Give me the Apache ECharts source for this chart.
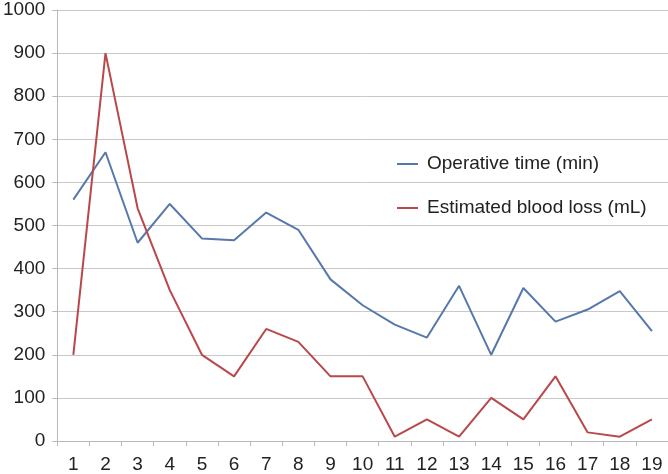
<!DOCTYPE html>
<html>
<head>
<meta charset="utf-8">
<script src="https://cdn.jsdelivr.net/npm/echarts@6/dist/echarts.min.js"></script>
<style>html,body{margin:0;padding:0;background:#fff}#c{width:668px;height:474px}</style>
</head>
<body>
<div id="c"></div>
<script>
var categories = ['1','2','3','4','5','6','7','8','9','10','11','12','13','14','15','16','17','18','19'];
var operativeTime = [560, 670, 460, 550, 470, 466, 530, 490, 375, 315, 270, 240, 360, 200, 355, 277, 305, 348, 255];
var bloodLoss = [200, 900, 540, 350, 200, 150, 260, 230, 150, 150, 10, 50, 10, 100, 50, 150, 20, 10, 50];
var seriesNames = ['Operative time (min)', 'Estimated blood loss (mL)'];

var chart = echarts.init(document.getElementById('c'), null, {renderer: 'canvas'});
var font = 'Liberation Sans, Arial, sans-serif';
chart.setOption({
  animation: false,
  backgroundColor: '#fff',
  grid: {left: 55, right: 0, top: 10, bottom: 32, containLabel: false},
  legend: {
    orient: 'vertical', left: 397, top: 154, itemGap: 24, padding: 0,
    icon: 'rect', itemWidth: 21, itemHeight: 2,
    textStyle: {fontFamily: font, fontSize: 19, color: '#222', lineHeight: 20, padding: [0,0,0,4]},
    data: seriesNames
  },
  xAxis: {
    type: 'category', data: categories, boundaryGap: true,
    axisLine: {lineStyle: {color: '#b8b8b8', width: 1}},
    axisTick: {show: true, length: 5, lineStyle: {color: '#b8b8b8'}},
    axisLabel: {fontFamily: font, fontSize: 19, color: '#222', margin: 14}
  },
  yAxis: {
    type: 'value', min: 0, max: 1000, interval: 100,
    axisLine: {show: true, lineStyle: {color: '#b8b8b8', width: 1}},
    axisTick: {show: true, length: 5, lineStyle: {color: '#b8b8b8'}},
    splitLine: {lineStyle: {color: '#c8c8c8', width: 1}},
    axisLabel: {fontFamily: font, fontSize: 19, color: '#222', margin: 12,
      formatter: function (v) { return String(v); }}
  },
  series: [
    {name: seriesNames[0], type: 'line', data: operativeTime, symbol: 'none',
     lineStyle: {color: '#5679ac', width: 2}, itemStyle: {color: '#5679ac'}},
    {name: seriesNames[1], type: 'line', data: bloodLoss, symbol: 'none',
     lineStyle: {color: '#b9484a', width: 2}, itemStyle: {color: '#b9484a'}}
  ]
});
</script>
</body>
</html>
